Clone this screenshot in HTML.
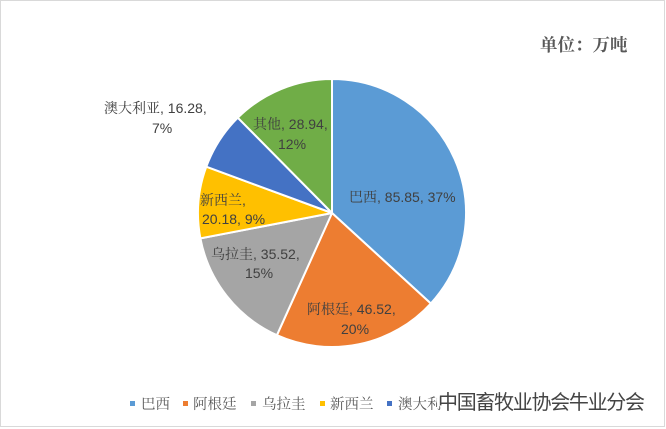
<!DOCTYPE html>
<html><head><meta charset="utf-8"><style>
html,body{margin:0;padding:0;background:#fff}
svg{display:block}
text{font-family:"Liberation Sans","Noto Serif CJK SC",serif}
</style></head><body>
<svg width="666" height="429" viewBox="0 0 666 429">
<rect x="0.5" y="0.5" width="664" height="426" fill="#fff" stroke="#d9d9d9"/>
<text x="540" y="51" font-size="17.5" font-weight="bold" fill="#595959">单位：万吨</text>
<g stroke="#fff" stroke-width="2" stroke-linejoin="round">
<path d="M332,213 L332,79 A134,134 0 0 1 430.8,303.5 Z" fill="#5b9bd5"/>
<path d="M332,213 L430.8,303.5 A134,134 0 0 1 276.9,335.2 Z" fill="#ed7d31"/>
<path d="M332,213 L276.9,335.2 A134,134 0 0 1 200.4,238.4 Z" fill="#a5a5a5"/>
<path d="M332,213 L200.4,238.4 A134,134 0 0 1 206.3,166.7 Z" fill="#ffc000"/>
<path d="M332,213 L206.3,166.7 A134,134 0 0 1 237.8,117.7 Z" fill="#4472c4"/>
<path d="M332,213 L237.8,117.7 A134,134 0 0 1 332,79 Z" fill="#70ad47"/>
</g>
<g font-size="14" fill="#404040">
<text x="349" y="202">巴西, 85.85, 37%</text>
<text x="307" y="314">阿根廷, 46.52,</text>
<text x="341" y="334">20%</text>
<text x="211" y="259">乌拉圭, 35.52,</text>
<text x="245" y="278">15%</text>
<text x="200" y="205">新西兰,</text>
<text x="202" y="224">20.18, 9%</text>
<text x="253" y="129">其他, 28.94,</text>
<text x="278" y="149">12%</text>
<text x="104" y="113">澳大利亚, 16.28,</text>
<text x="152" y="133">7%</text>
</g>
<g font-size="14.5" fill="#595959">
<rect x="130" y="401" width="5" height="5" fill="#5b9bd5"/><text x="141" y="409">巴西</text>
<rect x="183" y="401" width="5" height="5" fill="#ed7d31"/><text x="193" y="409">阿根廷</text>
<rect x="251" y="401" width="5" height="5" fill="#a5a5a5"/><text x="262" y="409">乌拉圭</text>
<rect x="320" y="401" width="5" height="5" fill="#ffc000"/><text x="330" y="409">新西兰</text>
<rect x="387" y="401" width="5" height="5" fill="#4472c4"/><text x="398" y="409">澳大利</text>
</g>
<circle cx="445" cy="399" r="9" fill="#fff" opacity="0.85"/>
<text x="438" y="409" font-size="20" fill="#444" style="font-family:'Noto Sans CJK SC',sans-serif" textLength="207">中国畜牧业协会牛业分会</text>
</svg>
</body></html>
